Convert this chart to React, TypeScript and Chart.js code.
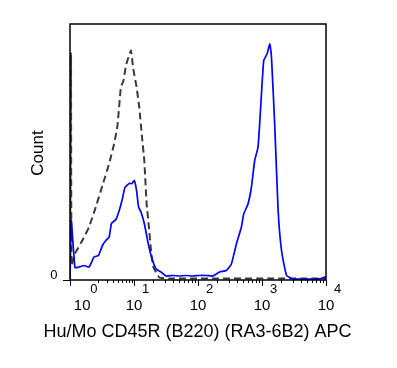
import React, { useEffect, useRef } from "react";
import { Chart, registerables } from "chart.js";

Chart.register(...registerables);

const FONT = '"Liberation Sans", Arial, Helvetica, sans-serif';

// x values are display positions in decades (10^1 at 1 ... 10^4 at 4; 10^0 compressed at 0.19)
const blueX = [0, 0.02, 0.078, 0.141, 0.22, 0.298, 0.376, 0.444, 0.507, 0.56, 0.612, 0.648, 0.717, 0.769, 0.82, 0.858, 0.925, 0.968, 1.004, 1.04, 1.071, 1.109, 1.161, 1.213, 1.266, 1.344, 1.423, 1.501, 1.605, 1.71, 1.815, 1.918, 2.024, 2.129, 2.232, 2.337, 2.442, 2.521, 2.6, 2.678, 2.714, 2.781, 2.835, 2.886, 2.938, 2.976, 3.027, 3.079, 3.122, 3.148, 3.2, 3.252, 3.305, 3.384, 3.487, 3.906, 3.984, 4];
const blueY = [0, 59.5, 12.5, 13, 14.5, 13, 23, 24.5, 34.5, 39.5, 43, 56.5, 60.5, 69.5, 81.5, 92.5, 96.5, 96.5, 99.5, 89.5, 73, 68, 56.5, 39.5, 24.5, 11, 8, 4, 4.5, 4, 4.5, 4, 4.5, 4.5, 4, 8, 9.5, 16, 36, 53, 66, 76, 93, 119.5, 133, 169.5, 219.5, 226, 236, 223, 153, 69.5, 29.5, 4.5, 1.2, 1.2, 3, 3.5];

const isoX = [0, 0.016, 0.024, 0.078, 0.193, 0.298, 0.403, 0.507, 0.612, 0.69, 0.742, 0.795, 0.836, 0.874, 0.952, 0.988, 1.04, 1.082, 1.125, 1.161, 1.197, 1.228, 1.266, 1.302, 1.396, 1.553, 4];
const isoY = [0, 226.5, 14.5, 26.5, 39.5, 53, 73, 94.5, 116.5, 136.5, 154.5, 193, 199.5, 214.5, 229.5, 211.5, 193, 173, 143, 119.5, 76.5, 56.5, 29.5, 13, 2.5, 1.5, 1.5];

const tickPositions = [0.19, 1, 2, 3, 4];
const tickExponents = ["0", "1", "2", "3", "4"];
const majorTicks = [0, 1, 2, 3, 4];
const yTickLabels = ["0"];
const xTitle = "Hu/Mo CD45R (B220) (RA3-6B2) APC";
const yTitle = "Count";

const axesPlugin = {
  id: "flowAxes",
  afterDraw(chart: any) {
    const { ctx, chartArea: a, scales } = chart;
    const x = scales.x;
    const y = scales.y;
    ctx.save();
    ctx.strokeStyle = "#000";
    ctx.lineWidth = 1.5;
    ctx.strokeRect(a.left, a.top, a.right - a.left, a.bottom - a.top);

    ctx.lineWidth = 1;
    ctx.beginPath();
    majorTicks.forEach((v) => {
      const px = Math.round(x.getPixelForValue(v)) + 0.5;
      ctx.moveTo(px, a.bottom);
      ctx.lineTo(px, a.bottom + 6);
    });
    const minors: number[] = [];
    for (let k = 2; k <= 9; k++) minors.push(0.19 + 0.81 * Math.log10(k));
    for (let d = 1; d < 4; d++) for (let k = 2; k <= 9; k++) minors.push(d + Math.log10(k));
    minors.forEach((v) => {
      const px = Math.round(x.getPixelForValue(v)) + 0.5;
      ctx.moveTo(px, a.bottom);
      ctx.lineTo(px, a.bottom + 3);
    });
    const y0 = Math.round(y.getPixelForValue(0)) + 0.5;
    ctx.moveTo(a.left - 7, y0);
    ctx.lineTo(a.left, y0);
    ctx.stroke();

    ctx.fillStyle = "#000";
    ctx.textBaseline = "alphabetic";
    tickPositions.forEach((v, i) => {
      const px = x.getPixelForValue(v);
      ctx.font = `15px ${FONT}`;
      ctx.textAlign = "center";
      ctx.fillText("10", px, 310);
      ctx.font = `13px ${FONT}`;
      ctx.textAlign = "left";
      ctx.fillText(tickExponents[i], px + 8, 293);
    });

    ctx.font = `13px ${FONT}`;
    ctx.textAlign = "right";
    ctx.fillText(yTickLabels[0], 57.5, y.getPixelForValue(0) - 1);

    ctx.font = `18px ${FONT}`;
    ctx.textAlign = "center";
    ctx.fillText(xTitle, 197.5, 337);

    ctx.translate(43, 153);
    ctx.rotate(-Math.PI / 2);
    ctx.font = `17px ${FONT}`;
    ctx.textAlign = "center";
    ctx.fillText(yTitle, 0, 0);
    ctx.restore();
  },
};

export default function App() {
  const ref = useRef<HTMLCanvasElement>(null);
  useEffect(() => {
    const chart = new Chart(ref.current!, {
      type: "line",
      data: {
        datasets: [
          {
            label: "CD45R APC",
            data: blueX.map((v, i) => ({ x: v, y: blueY[i] })),
            borderColor: "#0000ff",
            borderWidth: 1.7,
            pointRadius: 0,
            tension: 0.15,
            fill: false,
          },
          {
            label: "Isotype",
            data: isoX.map((v, i) => ({ x: v, y: isoY[i] })),
            borderColor: "#3a3a3a",
            borderWidth: 2,
            borderDash: [7, 4],
            pointRadius: 0,
            tension: 0.1,
            fill: false,
          },
        ],
      },
      options: {
        responsive: false,
        animation: false,
        devicePixelRatio: 1,
        layout: { padding: { left: 70, right: 71, top: 24, bottom: 88 } },
        plugins: { legend: { display: false }, tooltip: { enabled: false } },
        scales: {
          x: { type: "linear", min: 0, max: 4, display: false },
          y: { type: "linear", min: 0, max: 256, display: false },
        },
      },
      plugins: [axesPlugin],
    });
    return () => chart.destroy();
  }, []);
  return (
    <div style={{ position: "absolute", left: 0, top: 0, width: 397, height: 368, background: "#fff" }}>
      <canvas ref={ref} width={397} height={368} style={{ display: "block", width: 397, height: 368 }} />
    </div>
  );
}
